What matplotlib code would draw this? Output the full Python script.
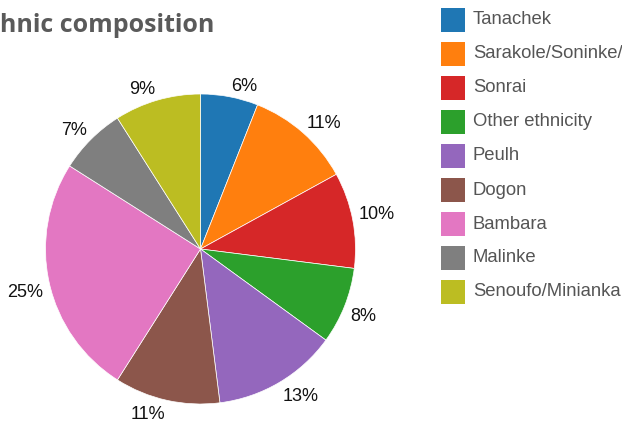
import matplotlib
matplotlib.use("Agg")
import matplotlib.pyplot as plt
from matplotlib.patches import Rectangle
import numpy as np

categories = ["Tanachek", "Sarakole/Soninke/Marka", "Sonrai", "Other ethnicity",
              "Peulh", "Dogon", "Bambara", "Malinke", "Senoufo/Minianka"]
values = [6, 11, 10, 8, 13, 11, 25, 7, 9]
colors = ["#1f77b4", "#ff7f0e", "#d62728", "#2ca02c", "#9467bd",
          "#8c564b", "#e377c2", "#7f7f7f", "#bcbd22"]
title = "Ethnic composition"

W, H = 622, 423
fig = plt.figure(figsize=(W / 100, H / 100), dpi=100)

cx, cy, R = 200.5, 249, 155
ax = fig.add_axes([(cx - R) / W, (H - cy - R) / H, 2 * R / W, 2 * R / H])
wedges, texts = ax.pie(
    values, colors=colors, startangle=90, counterclock=False, radius=1,
    wedgeprops=dict(linewidth=0.5, edgecolor="white"))
ax.set_xlim(-1, 1)
ax.set_ylim(-1, 1)
ax.set_aspect("equal")
ax.axis("off")

# percentage labels: nearest corner of text box on the mid-angle ray
total = float(sum(values))
for w, v in zip(wedges, values):
    mid = np.deg2rad((w.theta1 + w.theta2) / 2.0)
    x, y = 1.04 * np.cos(mid), 1.04 * np.sin(mid)
    ha = "left" if x >= 0 else "right"
    va = "baseline" if y >= 0 else "top"
    ax.text(x, y, f"{100 * v / total:.0f}%", ha=ha, va=va, fontsize=13,
            color="#111111", family="Liberation Sans", clip_on=False)

fig.text(-25 / W, 1 - 32 / H, title, fontsize=18, fontweight="bold",
         color="#5a5a5a", family="Open Sans", va="baseline", ha="left")

# legend
lx, ly0, step, sz = 441, 8, 34, 24
for i, (lab, c) in enumerate(zip(categories, colors)):
    y = ly0 + i * step
    fig.patches.append(Rectangle((lx / W, 1 - (y + sz) / H), sz / W, sz / H,
                                 transform=fig.transFigure, facecolor=c,
                                 edgecolor="none"))
    fig.text(473 / W, 1 - (y + sz / 2) / H, lab, fontsize=13.3,
             color="#555555", family="Liberation Sans", va="center", ha="left")

fig.savefig("out.png", dpi=100)
